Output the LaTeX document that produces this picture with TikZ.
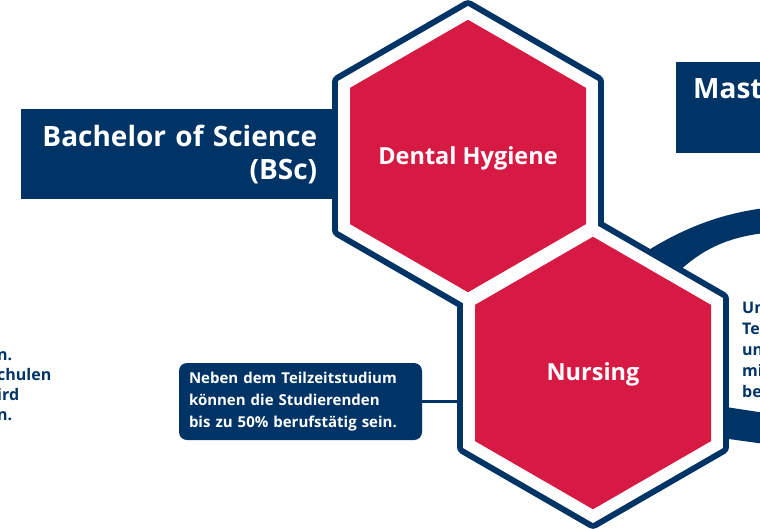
\documentclass[tikz,border=0pt]{standalone}
\usepackage{fontspec}
\setmainfont{Open Sans}
\definecolor{Navy}{RGB}{0, 52, 102}
\definecolor{Rot}{RGB}{215, 26, 68}
\usetikzlibrary{shapes.geometric, positioning}
\tikzset{
    kasten/.style = {fill=Navy, text=white, inner sep=0pt, font=\fontsize{28}{33}\selectfont\bfseries},
    notiz/.style = {fill=Navy, text=white, rounded corners=8pt, align=left, font=\fontsize{15}{22}\selectfont\bfseries},
    fliesstext/.style = {text=Navy, align=left, inner sep=0pt, font=\fontsize{16}{20}\selectfont\bfseries}
}

\begin{document}
\begin{tikzpicture}[
        x=1pt, y=-1pt,
        wabe/.style = {regular polygon, regular polygon sides=6, regular polygon rotate=30, inner sep=0pt},
        wabe rand/.style = {wabe, fill=Navy, minimum size=314pt, rounded corners=4pt},
        wabe luft/.style = {wabe, fill=white, minimum size=300pt},
        wabe kern/.style = {wabe, fill=Rot, minimum size=272.5pt},
        wabe text/.style = {text=white, inner sep=0pt, font=\fontsize{23.5}{28}\selectfont\bfseries},
        band/.style = {fill=Navy}
    ]
    \useasboundingbox (0,0) rectangle (760,528);
    \clip (0,0) rectangle (760,528);

    % Bachelor-Kasten liegt unter der Wabe
    \node[kasten, anchor=north west, text width=277pt, inner xsep=19pt, minimum height=90pt, align=right] (bsc) at (21,109) {Bachelor of Science\\(BSc)};

    % Baender rechts
    \fill[band] (630,262) .. controls (670,235) and (710,215) .. (765,208) -- (765,233) .. controls (720,238) and (690,255) .. (660,292) -- cycle;
    \fill[band] (700,403) -- (765,413) -- (765,444) -- (700,435) -- cycle;

    % Waben
    \node[wabe rand] (dental rand)  at (468,156) {};
    \node[wabe rand] (nursing rand) at (593,373) {};
    \node[wabe luft] at (dental rand) {};
    \node[wabe luft] at (nursing rand) {};
    \node[wabe kern] (dental)  at (dental rand)  {};
    \node[wabe kern] (nursing) at (nursing rand) {};
    \node[wabe text] (dental text)  at ([yshift=-2pt]dental)  {Dental Hygiene};
    \node[wabe text] (nursing text) at ([yshift=-1pt]nursing) {Nursing};

    % Notiz links mit Verbindung
    \node[notiz, text width=223pt, inner xsep=10pt, minimum height=77pt] (teilzeit) at (300.5,401.5) {Neben dem Teilzeitstudium\\können die Studierenden\\bis zu 50\% berufstätig sein.};
    \draw[Navy, line width=3pt] (teilzeit.east) -- (teilzeit.east -| nursing rand.west);

    % Master-Kasten
    \node[kasten, anchor=north west, minimum width=100pt, minimum height=91pt] (msc) at (676,62) {};
    \node[kasten, fill=none, anchor=base west] (msc titel) at (693,98) {Mast};

    % Textreste am Rand
    \node[fliesstext, anchor=base west] (links)  at (-3,420) {n.\\chulen\\ird\\n.};
    \node[fliesstext, anchor=base west, font=\fontsize{16}{21}\selectfont\bfseries] (rechts) at (742,397) {Un\\Te\\un\\mi\\be};
\end{tikzpicture}
\end{document}
